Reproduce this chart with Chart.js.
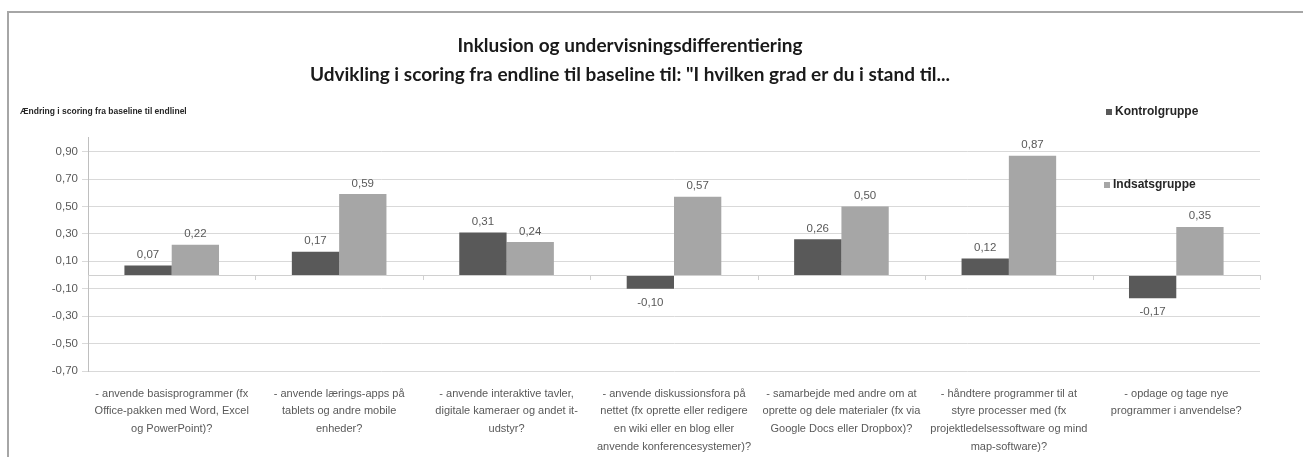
<!DOCTYPE html>
<html>
<head>
<meta charset="utf-8">
<script src="https://cdn.jsdelivr.net/npm/chart.js@4.4.1/dist/chart.umd.min.js"></script>
<style>
  html, body { margin: 0; padding: 0; background: #fff; }
  #wrap { width: 1303px; height: 457px; position: relative; }
</style>
</head>
<body>
<div id="wrap"><canvas id="myChart" width="1303" height="457"></canvas></div>
<script>
// spørgsmål (x-akse), hver som linjer
var categories = [
  ["- anvende basisprogrammer (fx", "Office-pakken med Word, Excel", "og PowerPoint)?"],
  ["- anvende lærings-apps på", "tablets og andre mobile", "enheder?"],
  ["- anvende interaktive tavler,", "digitale kameraer og andet it-", "udstyr?"],
  ["- anvende diskussionsfora på", "nettet (fx oprette eller redigere", "en wiki eller en blog eller", "anvende konferencesystemer)?"],
  ["- samarbejde med andre om at", "oprette og dele materialer (fx via", "Google Docs eller Dropbox)?"],
  ["- håndtere programmer til at", "styre processer med (fx", "projektledelsessoftware og mind", "map-software)?"],
  ["- opdage og tage nye", "programmer i anvendelse?"]
];
var kontrol = [0.07, 0.17, 0.31, -0.10, 0.26, 0.12, -0.17];
var indsats = [0.22, 0.59, 0.24, 0.57, 0.50, 0.87, 0.35];
var yTicks = [-0.70, -0.50, -0.30, -0.10, 0.10, 0.30, 0.50, 0.70, 0.90];

var narrow = '"Liberation Sans Narrow", sans-serif';

function komma(v) {
  return v.toFixed(2).replace('.', ',');
}

var extras = {
  id: 'extras',
  beforeDraw: function(chart) {
    var c = chart.ctx;
    c.save();
    c.fillStyle = '#fff';
    c.fillRect(0, 0, chart.width, chart.height);
    // ramme
    c.strokeStyle = '#a6a6a6';
    c.lineWidth = 2;
    c.beginPath();
    c.moveTo(8, chart.height);
    c.lineTo(8, 12);
    c.lineTo(chart.width, 12);
    c.stroke();
    c.restore();
  },
  afterDatasetsDraw: function(chart) {
    var c = chart.ctx;
    var y = chart.scales.y, area = chart.chartArea;
    var y0 = y.getPixelForValue(0);
    c.save();
    // nul-linje med små streger
    c.strokeStyle = '#d0d0d0';
    c.lineWidth = 1;
    c.beginPath();
    c.moveTo(area.left, Math.round(y0) + 0.5);
    c.lineTo(area.right, Math.round(y0) + 0.5);
    var step = (area.right - area.left) / categories.length;
    for (var i = 0; i <= categories.length; i++) {
      var xx = Math.round(area.left + i * step) + 0.5;
      c.moveTo(xx, y0);
      c.lineTo(xx, y0 + 5);
    }
    c.stroke();

    // værdier på søjlerne
    c.font = '11.5px ' + narrow;
    c.fillStyle = '#595959';
    c.textAlign = 'center';
    chart.data.datasets.forEach(function(ds, di) {
      chart.getDatasetMeta(di).data.forEach(function(bar, i) {
        var v = ds.data[i];
        if (v >= 0) {
          c.textBaseline = 'bottom';
          c.fillText(komma(v), bar.x, bar.y - 5);
        } else {
          c.textBaseline = 'top';
          c.fillText(komma(v), bar.x, bar.y + 8);
        }
      });
    });

    // aksetitel
    c.textAlign = 'left';
    c.textBaseline = 'middle';
    c.fillStyle = '#262626';
    c.font = 'bold 8.5px ' + narrow;
    c.fillText('Ændring i scoring fra baseline til endlinel', 20, 112);

    // forklaring
    var legend = [
      { text: 'Kontrolgruppe', color: '#595959', x: 1106, y: 112 },
      { text: 'Indsatsgruppe', color: '#a6a6a6', x: 1104, y: 185 }
    ];
    c.font = 'bold 12px ' + narrow;
    legend.forEach(function(l) {
      c.fillStyle = l.color;
      c.fillRect(l.x, l.y - 3, 6, 6);
      c.fillStyle = '#262626';
      c.fillText(l.text, l.x + 9, l.y);
    });
    c.restore();
  }
};

var ctx = document.getElementById('myChart').getContext('2d');
var chart = new Chart(ctx, {
  type: 'bar',
  data: {
    labels: categories,
    datasets: [{
      label: 'Kontrolgruppe',
      backgroundColor: '#595959',
      data: kontrol
    }, {
      label: 'Indsatsgruppe',
      backgroundColor: '#a6a6a6',
      data: indsats
    }]
  },
  options: {
    responsive: false,
    animation: false,
    layout: { padding: { left: 0, right: 43, top: 0, bottom: 0 } },
    plugins: {
      legend: { display: false },
      tooltip: { enabled: false },
      title: {
        display: true,
        text: ['Inklusion og undervisningsdifferentiering', 'Udvikling i scoring fra endline til baseline til: "I hvilken grad er du i stand til...'],
        color: '#1a1a1a',
        font: { family: 'Lato', size: 19, weight: 'bold', lineHeight: 1.55 },
        padding: { top: 31, bottom: 48 }
      }
    },
    datasets: {
      bar: { categoryPercentage: 0.565, barPercentage: 1 }
    },
    scales: {
      x: {
        afterFit: function(s) { s.height = 86; },
        grid: { display: false },
        border: { display: false },
        ticks: {
          color: '#595959',
          maxRotation: 0,
          autoSkip: false,
          padding: 6,
          font: { family: narrow, size: 11, lineHeight: 1.6 }
        }
      },
      y: {
        min: -0.7,
        max: 1.0,
        afterFit: function(s) { s.width = 88; },
        afterBuildTicks: function(s) {
          s.ticks = yTicks.map(function(v) { return { value: v }; });
        },
        grid: { color: '#d9d9d9', tickLength: 6 },
        border: { color: '#bfbfbf' },
        ticks: {
          color: '#595959',
          padding: 4,
          font: { family: narrow, size: 11.5 },
          callback: function(v) { return komma(v); }
        }
      }
    }
  },
  plugins: [extras]
});
</script>
</body>
</html>
